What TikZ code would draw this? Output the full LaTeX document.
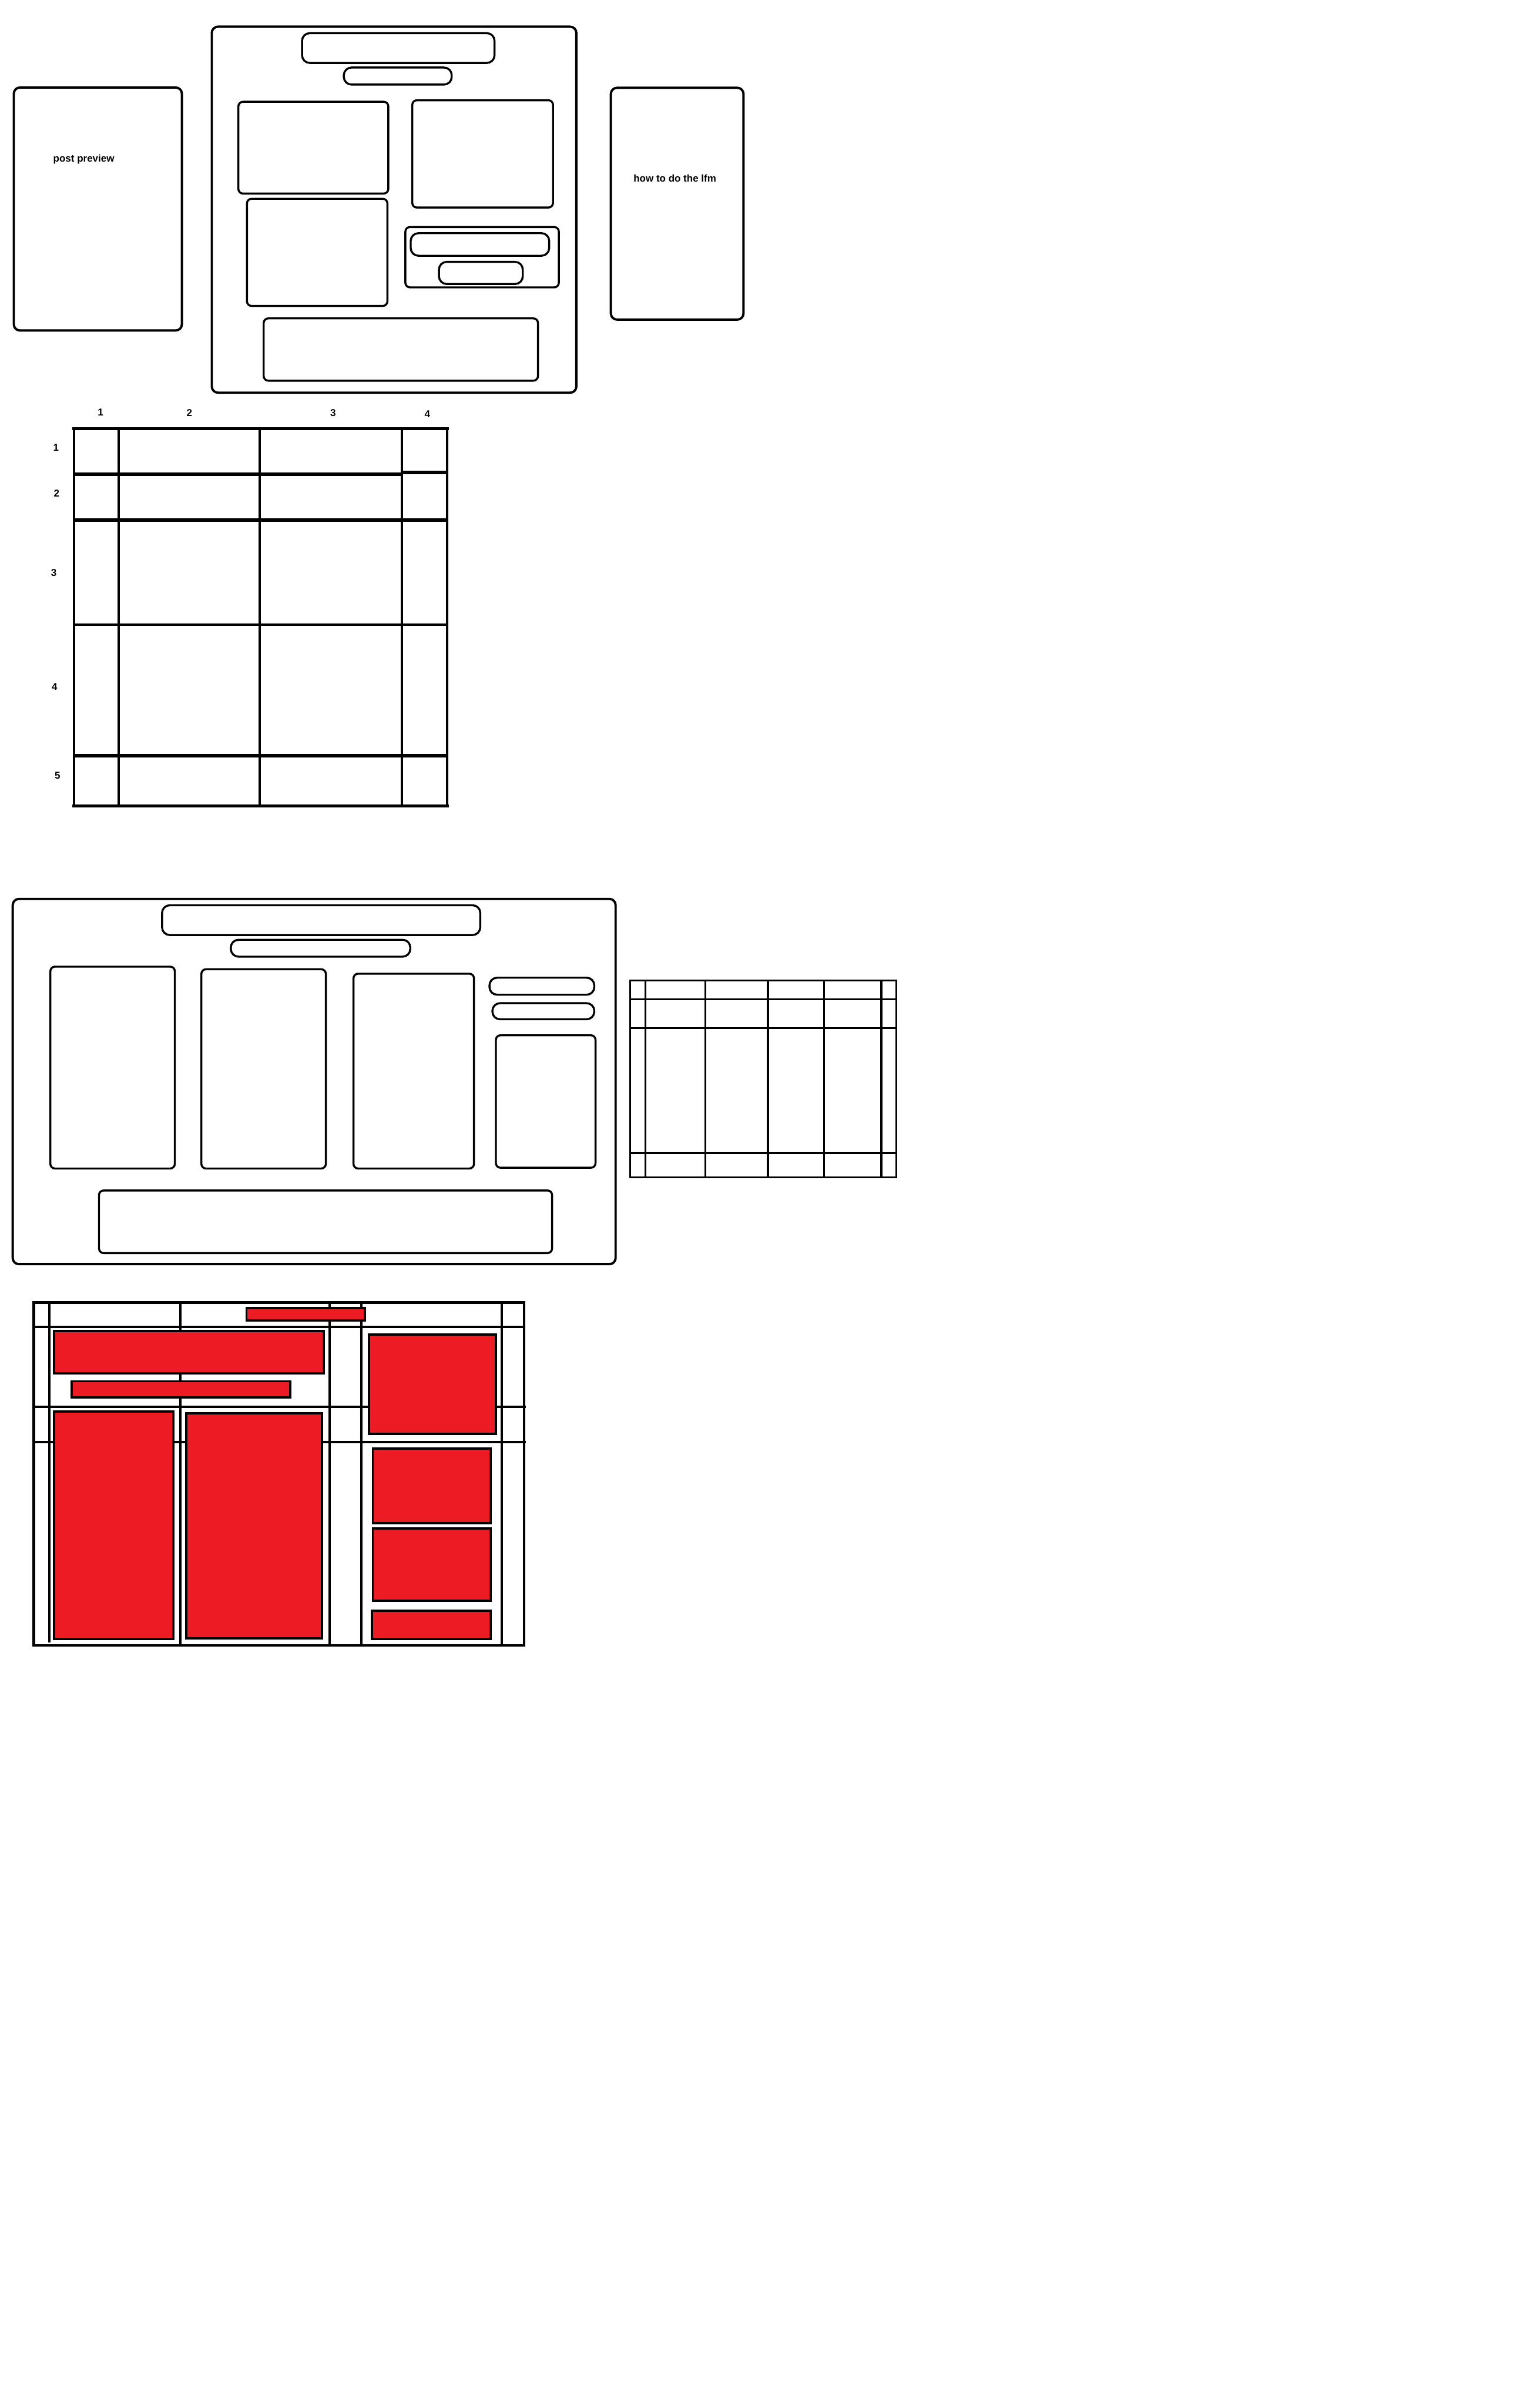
\documentclass[tikz,border=0pt]{standalone}
\usepackage{fontspec}
\setsansfont{Liberation Sans}
\usepackage{tikz}
\usetikzlibrary{positioning}
\definecolor{mockred}{HTML}{ED1C24}

\begin{document}
\begin{tikzpicture}[x=1pt,y=-1pt,every node/.style={font=\sffamily\bfseries\fontsize{6.5}{7}\selectfont,inner sep=0pt},outerframe/.style={draw,line width=1.5pt,rounded corners=4pt},panel/.style={draw,line width=1.3pt,rounded corners=3pt},pill/.style={draw,line width=1.3pt,rounded corners=5pt},thinrule/.style={line width=1.3pt},gridrule/.style={line width=1.6pt},thickrule/.style={line width=2.2pt},redbox/.style={draw,fill=mockred,line width=1.5pt}]
\useasboundingbox (0,0) rectangle (1003,1568);
% first mock-up: three panels
\draw[outerframe] (9,57) rectangle (118.5,215.3); \node (preview) at (54.6,103.7) {post preview};
\draw[outerframe] (138,17.4) rectangle (375.5,255.8); \draw[pill] (196.8,21.6) rectangle (322.2,41); \draw[pill] (224,44) rectangle (294.3,55.1);
\draw[panel] (155.3,66.3) rectangle (253,126.1); \draw[panel] (268.6,65.3) rectangle (360.3,135.2); \draw[panel] (160.9,129.5) rectangle (252.4,199.3);
\draw[panel] (264.1,147.9) rectangle (364.1,187.2); \draw[pill] (267.6,151.9) rectangle (357.8,166.6); \draw[pill] (286,170.6) rectangle (340.6,185);
\draw[panel] (171.8,207.4) rectangle (350.5,248);
\draw[outerframe] (398,57.2) rectangle (484.4,208.2); \node (howto) at (439.7,116.3) {how to do the lfm};
% numbered grid
\node (c1) at (65.5,268.5) {1}; \node (c2) at (123.4,268.9) {2}; \node (c3) at (217,269.1) {3}; \node (c4) at (278.4,269.8) {4};
\node (r1) at (36.5,291.4) {1}; \node (r2) at (36.9,321.3) {2}; \node (r3) at (35.1,373.2) {3}; \node (r4) at (35.5,447.5) {4}; \node (r5) at (37.5,505.3) {5};
\draw[gridrule] (48.2,279.3) -- (48.2,525.4); \draw[gridrule] (77.2,279.3) -- (77.2,525.4); \draw[gridrule] (169.2,279.3) -- (169.2,525.4); \draw[gridrule] (261.9,279.3) -- (261.9,525.4); \draw[gridrule] (291.3,279.3) -- (291.3,525.4);
\draw[thickrule] (47.2,279.3) -- (292.3,279.3); \draw[thickrule] (48.2,308.8) -- (261.9,308.8); \draw[thickrule] (261.9,307.9) -- (291.3,307.9); \draw[thickrule] (48.2,338.7) -- (291.3,338.7);
\draw[thinrule] (48.2,406.9) -- (291.3,406.9); \draw[thickrule] (48.2,492.3) -- (291.3,492.3); \draw[thickrule] (47.2,525) -- (292.3,525);
% second mock-up: columns
\draw[outerframe] (8.3,585.6) rectangle (401.1,823.5); \draw[pill] (105.6,589.7) rectangle (312.9,609.1); \draw[pill] (150.4,612.2) rectangle (267.3,623.2);
\draw[panel] (32.8,629.7) rectangle (113.9,761.2); \draw[panel] (131.2,631.4) rectangle (212.3,761.2); \draw[panel] (230.3,634.3) rectangle (308.8,761.2);
\draw[pill] (318.9,636.9) rectangle (387.2,648); \draw[pill] (320.8,653.5) rectangle (387.2,664); \draw[panel] (323.1,674.4) rectangle (388,760.7);
\draw[panel] (64.5,775.5) rectangle (359.7,816.3);
% small grid
\draw[thinrule] (410.6,638.7) rectangle (584,766.9);
\draw[thinrule] (420.4,638.7) -- (420.4,766.9); \draw[thinrule] (459.6,638.7) -- (459.6,766.9); \draw[thinrule] (500.3,638.7) -- (500.3,766.9); \draw[thinrule] (536.8,638.7) -- (536.8,766.9); \draw[thinrule] (574.2,638.7) -- (574.2,766.9);
\draw[thinrule] (410.6,650.9) -- (584,650.9); \draw[thinrule] (410.6,669.7) -- (584,669.7); \draw[thinrule] (410.6,751.1) -- (584,751.1);
% third mock-up: grid with red blocks
\draw[gridrule] (22,848.5) rectangle (341.5,1071.8);
\draw[gridrule] (32.1,848.5) -- (32.1,1070); \draw[gridrule] (117.6,848.5) -- (117.6,1071.8); \draw[gridrule] (214.9,848.5) -- (214.9,1071.8); \draw[gridrule] (235.4,848.5) -- (235.4,1071.8); \draw[gridrule] (326.9,848.5) -- (326.9,1071.8);
\draw[gridrule] (22,864.4) -- (341.5,864.4); \draw[gridrule] (22,916.4) -- (342.5,916.4); \draw[gridrule] (21.5,939.3) -- (342.5,939.3);
\draw[redbox] (160.6,852.3) rectangle (237.8,860.2);
\draw[redbox] (35.1,867.1) rectangle (210.8,894.7); \draw[redbox] (46.7,899.8) rectangle (189.2,910.4); \draw[redbox] (240.5,869.5) rectangle (323.2,934);
\draw[redbox] (35.1,919.4) rectangle (112.8,1067.8); \draw[redbox] (121.3,920.7) rectangle (209.7,1067.2);
\draw[redbox] (242.9,943.6) rectangle (319.5,992.1); \draw[redbox] (242.9,995.6) rectangle (319.5,1042.9); \draw[redbox] (242.4,1049.3) rectangle (319.5,1067.5);
\end{tikzpicture}
\end{document}
